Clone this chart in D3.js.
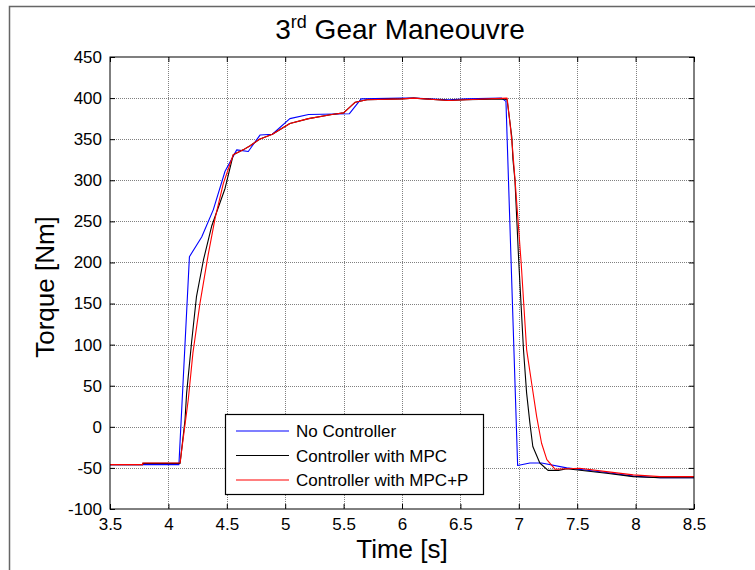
<!DOCTYPE html>
<html>
<head>
<meta charset="utf-8">
<script src="https://cdnjs.cloudflare.com/ajax/libs/d3/7.8.5/d3.min.js"></script>
<style>
  body { margin: 0; background: #fff; }
  text { font-family: "Liberation Sans", Arial, sans-serif; fill: #000; }
</style>
</head>
<body>
<svg id="chart"></svg>
<script>
var width = 755;
var height = 570;

// axis ticks
var xTicks = [3.5, 4, 4.5, 5, 5.5, 6, 6.5, 7, 7.5, 8, 8.5];
var yTicks = [-100, -50, 0, 50, 100, 150, 200, 250, 300, 350, 400, 450];

// series (time [s] / torque [Nm])
var seriesNames = ["No Controller", "Controller with MPC", "Controller with MPC+P"];
var seriesColors = ["#0000ff", "#000000", "#ff0000"];

var noCtrlTime = [3.5, 4.09, 4.18, 4.285, 4.384, 4.485, 4.585, 4.684, 4.784, 4.89, 5.04, 5.2, 5.55, 5.65, 6.0, 6.1, 6.4, 6.55, 6.853, 6.89, 6.99, 7.095, 7.195, 7.41, 7.75, 7.98, 8.21, 8.5];
var noCtrlTorque = [-46, -46, 207, 231, 264, 311, 337, 335, 355, 356, 375, 380, 381, 399, 400, 400, 398, 399, 400, 396, -47, -44, -44, -50, -55.5, -60, -62, -62];

var mpcTime = [3.5, 3.78, 3.78, 4.1, 4.142, 4.156, 4.2, 4.24, 4.3, 4.37, 4.485, 4.555, 4.64, 4.7, 4.78, 4.89, 5.04, 5.2, 5.4, 5.5, 5.6, 5.7, 6.0, 6.1, 6.4, 6.55, 6.88, 6.9, 6.94, 6.95, 6.967, 7.0, 7.04, 7.067, 7.095, 7.12, 7.18, 7.25, 7.34, 7.41, 7.75, 7.98, 8.21, 8.5];
var mpcTorque = [-46, -46, -44.5, -44.5, 8, 41, 105, 158, 203, 244, 290, 331, 337, 342, 350, 356, 369, 375, 380, 382, 395, 398, 399, 400, 397, 398, 399, 397.7, 353, 325, 300, 200, 94, 41, 4.5, -24, -44, -53, -53, -51, -56.5, -60.6, -62, -62];

var mpcpTime = [3.5, 3.78, 3.78, 4.1, 4.114, 4.17, 4.21, 4.27, 4.34, 4.4, 4.47, 4.555, 4.64, 4.7, 4.78, 4.89, 5.04, 5.2, 5.4, 5.5, 5.6, 5.7, 6.0, 6.1, 6.4, 6.55, 6.9, 6.925, 6.945, 6.967, 7.02, 7.067, 7.11, 7.153, 7.195, 7.24, 7.31, 7.52, 7.75, 7.98, 8.21, 8.5];
var mpcpTorque = [-46, -46, -44, -44, -28, 33, 90, 150, 209, 254, 296, 331, 337, 342, 350, 356, 369, 375, 380, 382, 395, 398, 399, 400, 397, 398, 400, 369, 341, 302, 200, 94, 53, 12.5, -20, -40, -51.6, -50.4, -54.5, -58.5, -60.6, -60.6];

var svg = d3.select('#chart')
  .attr('width', width)
  .attr('height', height);

var x = d3.scaleLinear().domain([3.5, 8.5]).range([110, 694]);
var y = d3.scaleLinear().domain([-100, 450]).range([509, 57]);

////////////////////////////////////////////////////////////////////////////////
//                                                             Figure + grid //
////////////////////////////////////////////////////////////////////////////////

// figure frame (runs off the right and bottom of the picture)
svg.append("rect")
  .attr("x", 9.5).attr("y", 6.5)
  .attr("width", 800).attr("height", 600)
  .attr("fill", "none").attr("stroke", "#666").attr("stroke-width", 1.5);

var grid = svg.append("g").attr("stroke", "#808080").attr("stroke-dasharray", "1,1");
grid.selectAll(".vx").data(xTicks.slice(1, -1)).enter().append("line")
  .attr("x1", function(d) { return Math.round(x(d)) + 0.5; })
  .attr("x2", function(d) { return Math.round(x(d)) + 0.5; })
  .attr("y1", y(450)).attr("y2", y(-100));
grid.selectAll(".hy").data(yTicks.slice(1, -1)).enter().append("line")
  .attr("y1", function(d) { return Math.round(y(d)) + 0.5; })
  .attr("y2", function(d) { return Math.round(y(d)) + 0.5; })
  .attr("x1", x(3.5)).attr("x2", x(8.5));

////////////////////////////////////////////////////////////////////////////////
//                                                                    Series //
////////////////////////////////////////////////////////////////////////////////

var line = d3.line()
  .x(function(d) { return x(d[0]); })
  .y(function(d) { return y(d[1]); });

var series = [
  d3.zip(noCtrlTime, noCtrlTorque),
  d3.zip(mpcTime, mpcTorque),
  d3.zip(mpcpTime, mpcpTorque)
];

var plot = svg.append("g");
series.forEach(function(points, i) {
  plot.append("path")
    .attr("d", line(points))
    .attr("fill", "none")
    .attr("stroke", seriesColors[i])
    .attr("stroke-width", 1.1)
    .attr("stroke-linejoin", "round");
});

////////////////////////////////////////////////////////////////////////////////
//                                                                      Axes //
////////////////////////////////////////////////////////////////////////////////

// plain hyphen for negatives, like the original
var plain = function(d) { return String(d); };

// ticks inside, on all four sides
svg.append("g").attr("transform", "translate(0," + y(-100) + ")")
  .call(d3.axisBottom(x).tickValues(xTicks).tickSizeInner(-5).tickSizeOuter(0).tickPadding(9).tickFormat(plain))
  .call(function(g) { g.select(".domain").remove(); });
svg.append("g").attr("transform", "translate(0," + y(450) + ")")
  .call(d3.axisTop(x).tickValues(xTicks).tickSizeInner(-5).tickSizeOuter(0).tickFormat(""))
  .call(function(g) { g.select(".domain").remove(); });
svg.append("g").attr("transform", "translate(" + x(3.5) + ",0)")
  .call(d3.axisLeft(y).tickValues(yTicks).tickSizeInner(-5).tickSizeOuter(0).tickPadding(8).tickFormat(plain))
  .call(function(g) { g.select(".domain").remove(); });
svg.append("g").attr("transform", "translate(" + x(8.5) + ",0)")
  .call(d3.axisRight(y).tickValues(yTicks).tickSizeInner(-5).tickSizeOuter(0).tickFormat(""))
  .call(function(g) { g.select(".domain").remove(); });

svg.selectAll(".tick text")
  .style("font-family", "'Liberation Sans', Arial, sans-serif")
  .style("font-size", "17px")
  .attr("fill", "#000");
svg.selectAll(".tick line").attr("stroke", "#000");

// axes box
svg.append("rect")
  .attr("x", x(3.5)).attr("y", y(450))
  .attr("width", x(8.5) - x(3.5)).attr("height", y(-100) - y(450))
  .attr("fill", "none").attr("stroke", "#000").attr("stroke-width", 1);

////////////////////////////////////////////////////////////////////////////////
//                                                                    Labels //
////////////////////////////////////////////////////////////////////////////////

var title = svg.append("text")
  .attr("x", 400).attr("y", 39)
  .attr("text-anchor", "middle")
  .style("font-size", "28px");
title.append("tspan").text("3");
title.append("tspan").attr("dy", -11).style("font-size", "18px").text("rd");
title.append("tspan").attr("dy", 11).text(" Gear Maneouvre");

svg.append("text")
  .attr("x", 402).attr("y", 558)
  .attr("text-anchor", "middle")
  .style("font-size", "26px")
  .text("Time [s]");

svg.append("text")
  .attr("transform", "translate(54,287) rotate(-90)")
  .attr("text-anchor", "middle")
  .style("font-size", "26px")
  .text("Torque [Nm]");

////////////////////////////////////////////////////////////////////////////////
//                                                                    Legend //
////////////////////////////////////////////////////////////////////////////////

var legend = svg.append("g").attr("transform", "translate(225,414)");
legend.append("rect")
  .attr("x", 0.5).attr("y", 0.5)
  .attr("width", 258).attr("height", 80)
  .attr("fill", "#fff").attr("stroke", "#000").attr("stroke-width", 1.2);

seriesNames.forEach(function(name, i) {
  var ly = 17 + i * 24.5;
  legend.append("line")
    .attr("x1", 11).attr("x2", 64)
    .attr("y1", ly).attr("y2", ly)
    .attr("stroke", seriesColors[i]).attr("stroke-width", 1.1);
  legend.append("text")
    .attr("x", 71).attr("y", ly + 6)
    .style("font-size", "17px")
    .text(name);
});
</script>
</body>
</html>
